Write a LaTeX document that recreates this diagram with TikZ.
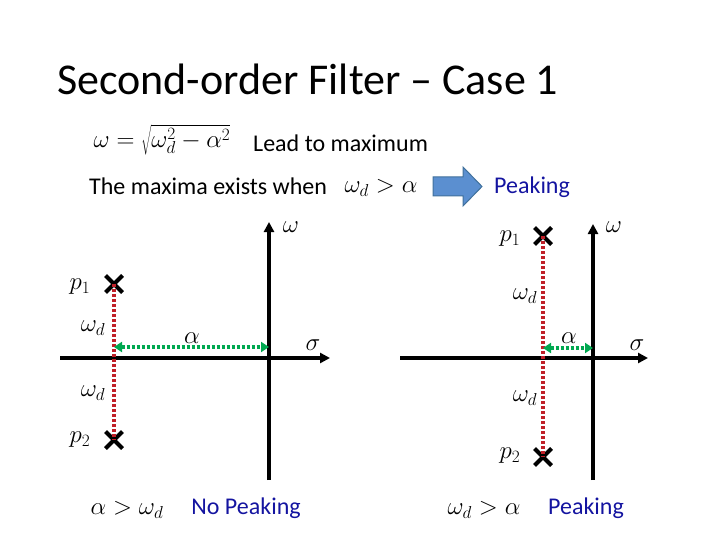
\documentclass[tikz,border=0pt]{standalone}
\usepackage{fontspec}
\setmainfont{Carlito}
\usetikzlibrary{arrows.meta,shapes.misc}
\definecolor{pkblue}{RGB}{20,20,160}
\definecolor{arrfill}{RGB}{91,143,208}
\definecolor{arrdraw}{RGB}{65,113,156}
\definecolor{reddot}{RGB}{192,32,40}
\definecolor{greendot}{RGB}{0,168,80}
\tikzset{
  axis/.style={line width=3.5pt,-{Triangle[length=10pt,width=10pt]}},
  pole/.style={cross out,draw=black,line width=4pt,minimum size=13pt,inner sep=0pt},
  redline/.style={draw=reddot,line width=3.5pt,dash pattern=on 3pt off 2pt},
  greenline/.style={draw=greendot,line width=3.5pt,dash pattern=on 3pt off 2pt,{Triangle[length=8pt,width=10pt]}-{Triangle[length=8pt,width=10pt]}},
  mlab/.style={font=\fontsize{25}{29}\selectfont,inner sep=0pt},
  body/.style={font=\fontsize{24}{28}\selectfont,inner sep=0pt},
  blue/.style={body,text=pkblue}
}
\begin{document}
\begin{tikzpicture}[x=1pt,y=-1pt]
\useasboundingbox (0,0) rectangle (720,540);
% title
\node[anchor=base west,font=\fontsize{44}{50}\selectfont,inner sep=0pt] (title) at (57,95) {Second-order Filter – Case 1};
% formula lines
\node[font=\fontsize{23}{27}\selectfont,inner sep=0pt] (formula) at (162,140) {$\omega=\sqrt{\omega_d^2-\alpha^2}$};
\node[body,anchor=west] (lead) at (253,143) {Lead to maximum};
\node[body,anchor=west] (maxima) at (89,186) {The maxima exists when};
\node[mlab] (cond) at (381,188) {$\omega_d>\alpha$};
\draw[fill=arrfill,draw=arrdraw,line width=1pt] (433,177) -- (463,177) -- (463,167) -- (482,186.5) -- (463,206) -- (463,196) -- (433,196) -- cycle;
\node[blue,anchor=west] (peak1) at (494,187) {Peaking};
% ---------- left diagram ----------
\coordinate (Lxs) at (60,358);
\coordinate (Lxe) at (330,358);
\coordinate (Lyb) at (269,480);
\coordinate (Lyt) at (269,222);
\draw[axis] (Lxs) -- (Lxe);
\draw[axis] (Lyb) -- (Lyt);
\node[mlab] (Lomega) at (291,227) {$\omega$};
\node[mlab] (Lsigma) at (313,345) {$\sigma$};
\node[pole] (Lp1) at (114,284) {};
\node[pole] (Lp2) at (114,440) {};
\draw[redline] (Lp1.center) -- (Lp2.center);
\coordinate (La) at (114,347);
\coordinate (Lb) at (269,347);
\draw[greenline] (La) -- (Lb);
\node[mlab] (Lalpha) at (192,338) {$\alpha$};
\node[mlab] (Lwd1) at (93,328) {$\omega_d$};
\node[mlab] (Lwd2) at (93,393) {$\omega_d$};
\node[mlab] (Lp1l) at (80,287) {$p_1$};
\node[mlab] (Lp2l) at (80,440) {$p_2$};
% ---------- right diagram ----------
\coordinate (Rxs) at (400,358);
\coordinate (Rxe) at (648,358);
\coordinate (Ryb) at (593,480);
\coordinate (Ryt) at (593,224);
\draw[axis] (Rxs) -- (Rxe);
\draw[axis] (Ryb) -- (Ryt);
\node[mlab] (Romega) at (614,227) {$\omega$};
\node[mlab] (Rsigma) at (637,345) {$\sigma$};
\node[pole] (Rp1) at (543,236) {};
\node[pole] (Rp2) at (543,457) {};
\draw[redline] (Rp1.center) -- (Rp2.center);
\coordinate (Ra) at (543,348);
\coordinate (Rb) at (593,348);
\draw[greenline] (Ra) -- (Rb);
\node[mlab] (Ralpha) at (569,338) {$\alpha$};
\node[mlab] (Rwd1) at (525,296) {$\omega_d$};
\node[mlab] (Rwd2) at (525,398) {$\omega_d$};
\node[mlab] (Rp1l) at (510,239) {$p_1$};
\node[mlab] (Rp2l) at (510,456) {$p_2$};
% ---------- bottom ----------
\node[mlab] (c1) at (127,510) {$\alpha>\omega_d$};
\node[blue] (np) at (246,508) {No Peaking};
\node[mlab] (c2) at (484,510) {$\omega_d>\alpha$};
\node[blue] (pk2) at (586,508) {Peaking};
\end{tikzpicture}
\end{document}
